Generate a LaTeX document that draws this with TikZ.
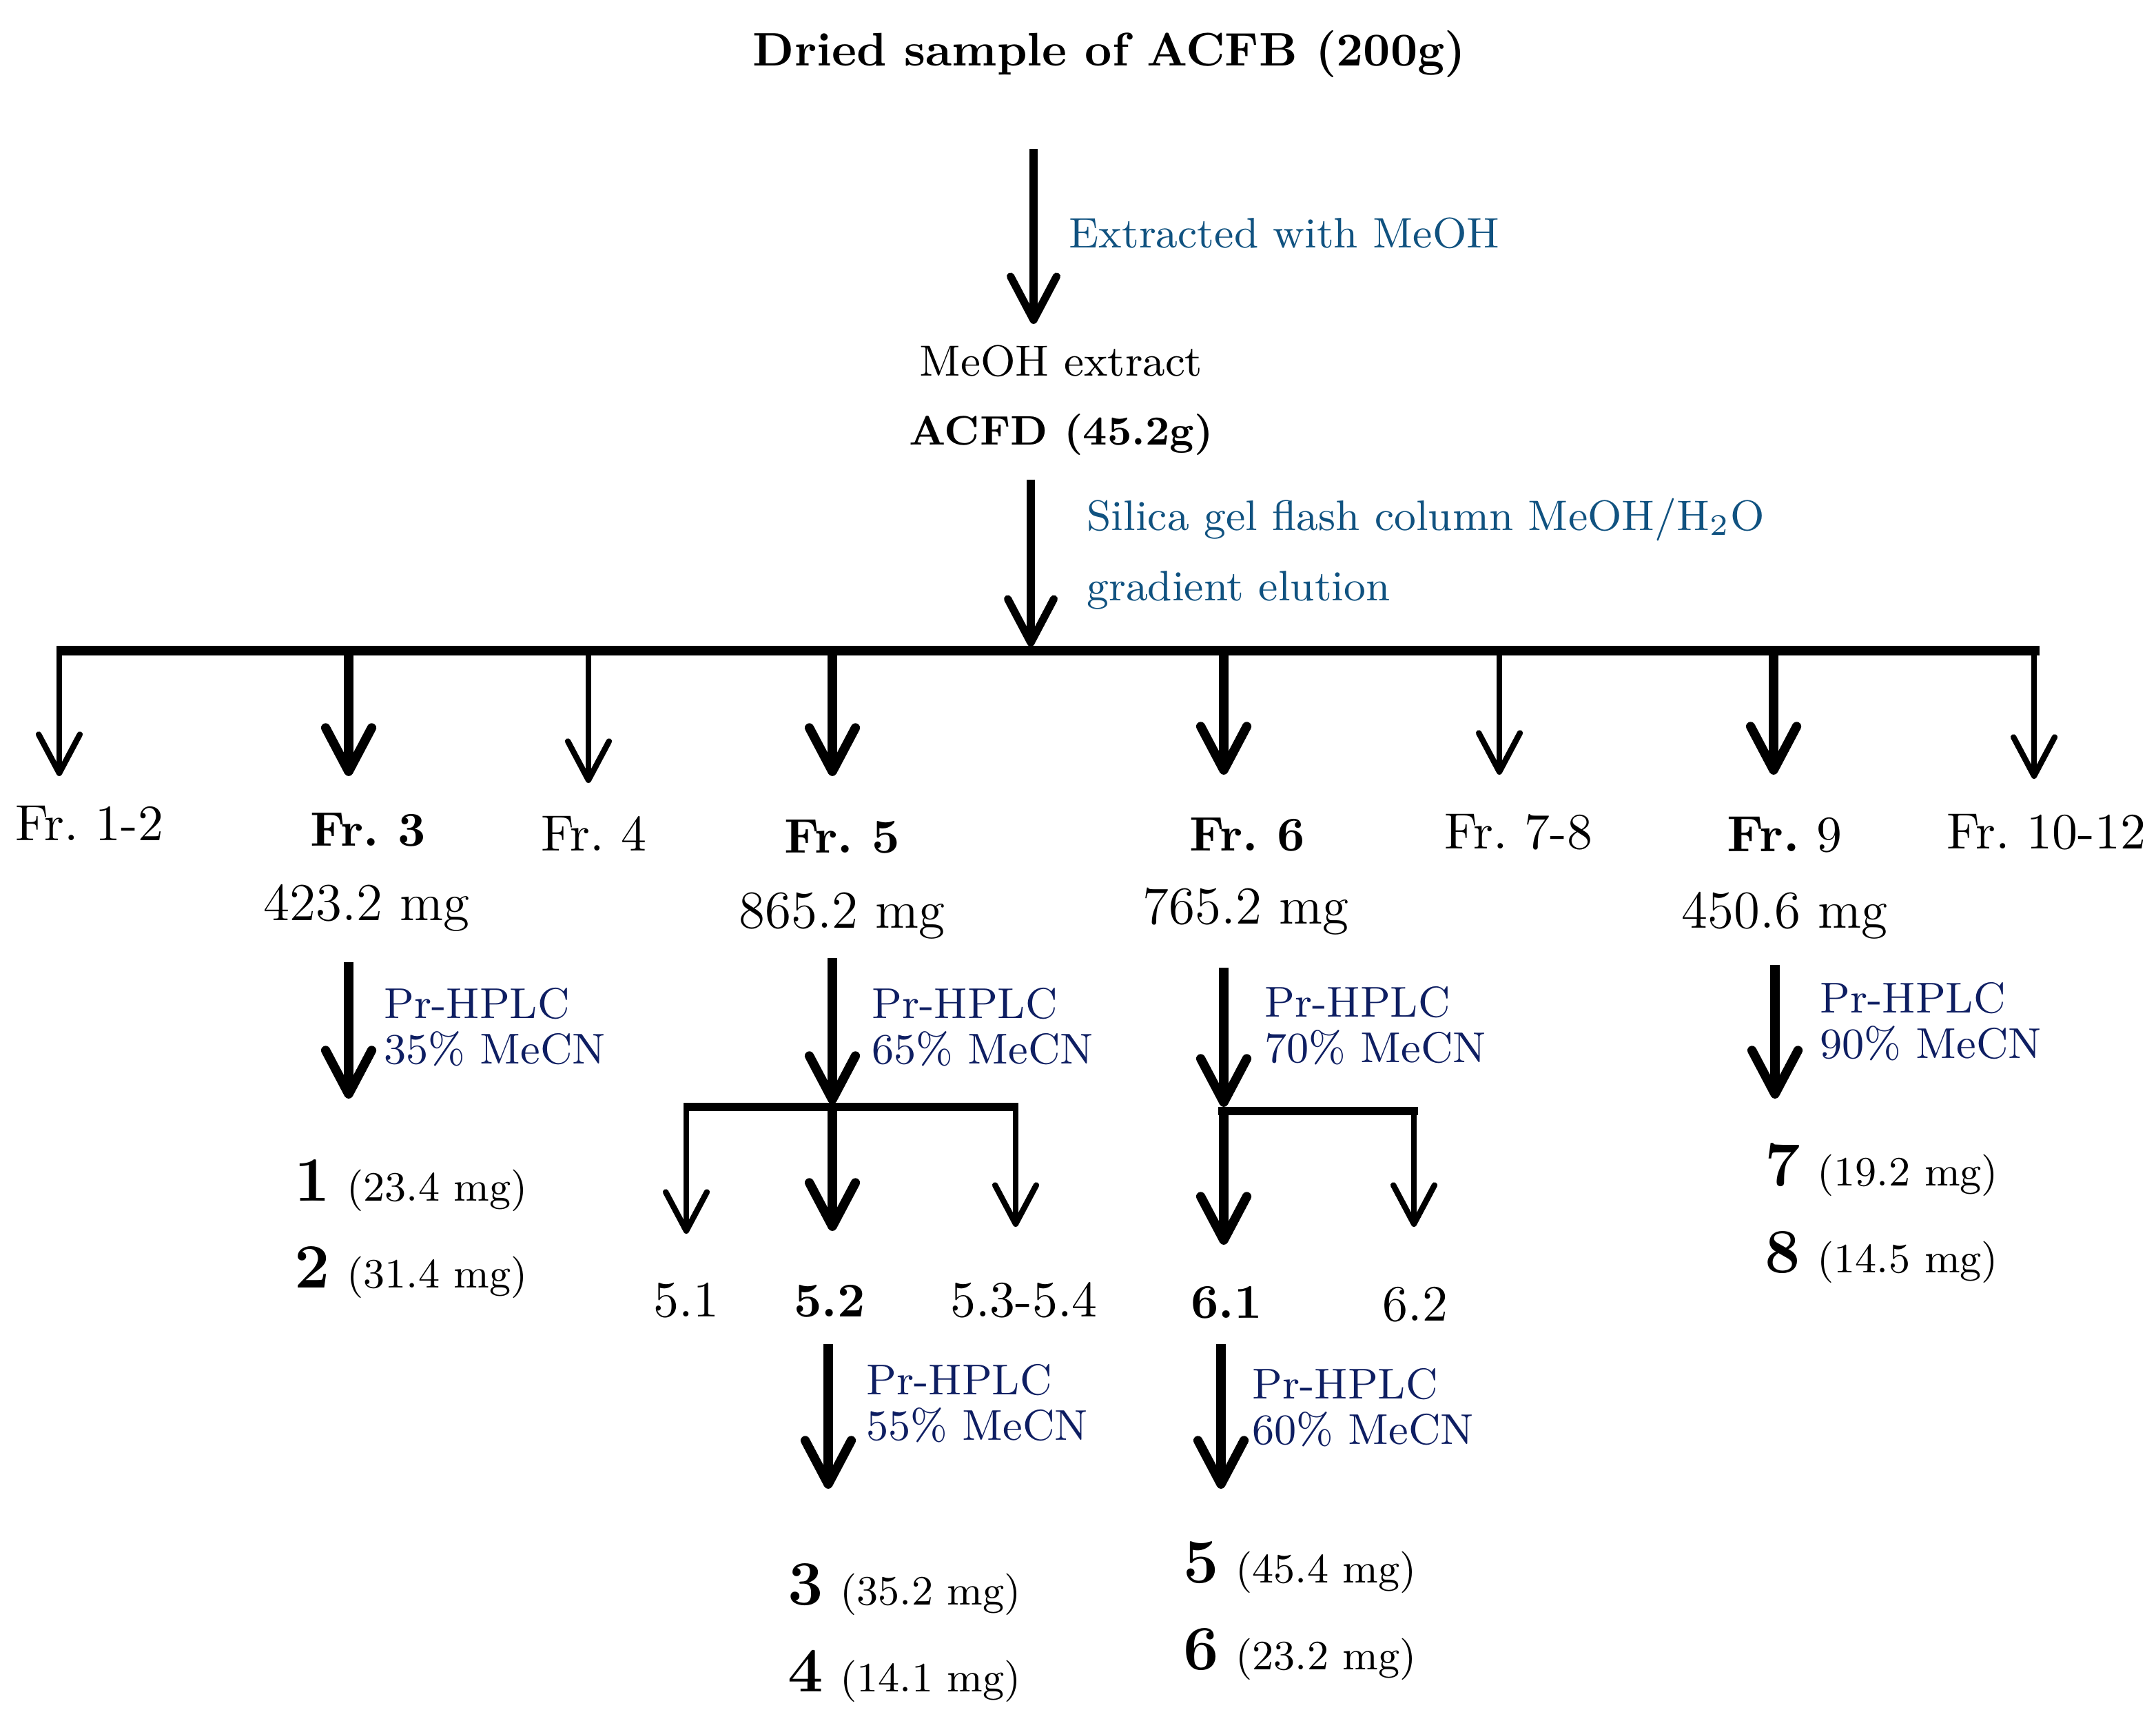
\documentclass[tikz,border=0pt]{standalone}
\usetikzlibrary{arrows.meta}
\definecolor{extblue}{RGB}{16,82,128}
\definecolor{hplcblue}{RGB}{14,30,98}
\frenchspacing

\begin{document}
\begin{tikzpicture}[x=0.01cm,y=-0.01cm,
    ttl/.style={inner sep=0pt,anchor=base,font=\fontsize{9.7}{12}\selectfont\bfseries},
    plain/.style={inner sep=0pt,anchor=base,font=\fontsize{9}{11}\selectfont},
    frac/.style={inner sep=0pt,anchor=base,font=\fontsize{10.5}{12}\selectfont},
    bfrac/.style={frac,font=\fontsize{10}{12}\selectfont\bfseries},
    mass/.style={inner sep=0pt,anchor=base,font=\fontsize{11}{13}\selectfont},
    cmpd/.style={inner sep=0pt,anchor=base west,font=\fontsize{13}{15}\selectfont\bfseries},
    ext/.style={inner sep=0pt,anchor=north west,align=left,text=extblue,font=\fontsize{8.8}{14.5}\selectfont},
    hplc/.style={inner sep=0pt,anchor=north west,align=left,text=hplcblue,font=\fontsize{8.9}{9.4}\selectfont},
    mainarr/.style={line width=1.6pt,-{Straight Barb[length=9pt,width=9.5pt,round]}},
    fatarr/.style={line width=1.9pt,-{Straight Barb[length=9pt,width=9.5pt,round]}},
    thinarr/.style={line width=1.2pt,-{Straight Barb[length=8pt,width=8.5pt,round]}},
    bar/.style={line width=1.9pt},
    subbar/.style={line width=1.7pt}]

    \useasboundingbox (0,0) rectangle (1564.5,1240.5);
    \def\bary{472}
    \def\mg#1{\kern3.5pt{\fontsize{8.6}{11}\selectfont\mdseries (#1 mg)}}

    %%%%% extraction %%%%%
    \node[ttl] (title) at (805,48) {Dried sample of ACFB (200g)};
    \coordinate (s1) at (750,108);
    \coordinate (t1) at (750,235);
    \draw[mainarr] (s1) -- (t1);
    \node[ext] (extr) at (775,157) {Extracted with MeOH};

    \node[plain] (meoh) at (770,273) {MeOH extract};
    \node[plain,font=\fontsize{8.5}{11}\selectfont\bfseries] (acfd) at (770,323) {ACFD (45.2g)};

    \coordinate (s2) at (748,348);
    \coordinate (t2) at (748,469);
    \draw[mainarr] (s2) -- (t2);
    \node[ext] (silica) at (788,361) {Silica gel flash column MeOH/H\textsubscript{2}O\\gradient elution};

    %%%%% fractions %%%%%
    \coordinate (barL) at (41,\bary);
    \coordinate (barR) at (1480,\bary);
    \draw[bar] (barL) -- (barR);
    \foreach \n/\x/\tip/\sty in {12/43/563/thinarr, 3/253/563/fatarr, 4/427/568/thinarr, 5/604/563/fatarr,
        6/888/562/fatarr, 78/1088/562/thinarr, 9/1287/562/fatarr, 1012/1476/565/thinarr}{
        \coordinate (b\n) at (\x,\bary);
        \coordinate (e\n) at (\x,\tip);
        \draw[\sty] (b\n) -- (e\n);
    }

    \node[frac] (fr12) at (65,610) {Fr. 1-2};
    \node[bfrac] (fr3) at (267,614) {Fr. 3};
    \node[mass] (m3) at (266,668) {423.2 mg};
    \node[frac] (fr4) at (431,617) {Fr. 4};
    \node[bfrac] (fr5) at (611,619) {Fr. 5};
    \node[mass] (m5) at (611,673) {865.2 mg};
    \node[bfrac] (fr6) at (905,617) {Fr. 6};
    \node[mass] (m6) at (904,670) {765.2 mg};
    \node[frac] (fr78) at (1102,616) {Fr. 7-8};
    \node[frac] (fr9) at (1295,618) {\textbf{Fr.} 9};
    \node[mass] (m9) at (1295,673) {450.6 mg};
    \node[frac] (fr1012) at (1485,616) {Fr. 10-12};

    %%%%% Fr. 3 %%%%%
    \coordinate (s3) at (253,698);
    \coordinate (t3) at (253,797);
    \draw[fatarr] (s3) -- (t3);
    \node[hplc] (c3) at (278,716) {Pr-HPLC\\35\% MeCN};
    \node[cmpd] (k1) at (213,871) {1\mg{23.4}};
    \node[cmpd] (k2) at (213,934) {2\mg{31.4}};

    %%%%% Fr. 5 %%%%%
    \coordinate (s5) at (604,695);
    \coordinate (t5) at (604,801);
    \draw[fatarr] (s5) -- (t5);
    \node[hplc] (c5) at (632,716) {Pr-HPLC\\65\% MeCN};
    \coordinate (j51) at (496,803);
    \coordinate (j54) at (739,803);
    \draw[subbar] (j51) -- (j54);
    \coordinate (a51) at (498,803);  \coordinate (z51) at (498,895);
    \coordinate (a52) at (604,803);  \coordinate (z52) at (604,893);
    \coordinate (a53) at (737,803);  \coordinate (z53) at (737,890);
    \draw[thinarr] (a51) -- (z51);
    \draw[fatarr] (a52) -- (z52);
    \draw[thinarr] (a53) -- (z53);
    \node[frac] (f51) at (498,955) {5.1};
    \node[bfrac] (f52) at (602,955) {5.2};
    \node[frac] (f534) at (743,955) {5.3-5.4};

    \coordinate (s52) at (601,975);
    \coordinate (t52) at (601,1080);
    \draw[fatarr] (s52) -- (t52);
    \node[hplc] (c52) at (628,989) {Pr-HPLC\\55\% MeCN};
    \node[cmpd] (k3) at (571,1164) {3\mg{35.2}};
    \node[cmpd] (k4) at (571,1227) {4\mg{14.1}};

    %%%%% Fr. 6 %%%%%
    \coordinate (s6) at (888,702);
    \coordinate (t6) at (888,803);
    \draw[fatarr] (s6) -- (t6);
    \node[hplc] (c6) at (917,715) {Pr-HPLC\\70\% MeCN};
    \coordinate (j61) at (884,806);
    \coordinate (j62) at (1029,806);
    \draw[subbar] (j61) -- (j62);
    \coordinate (a61) at (888,806);  \coordinate (z61) at (888,903);
    \coordinate (a62) at (1026,806); \coordinate (z62) at (1026,890);
    \draw[fatarr] (a61) -- (z61);
    \draw[thinarr] (a62) -- (z62);
    \node[bfrac] (f61) at (890,956) {6.1};
    \node[frac] (f62) at (1027,958) {6.2};

    \coordinate (s61) at (886,975);
    \coordinate (t61) at (886,1080);
    \draw[fatarr] (s61) -- (t61);
    \node[hplc] (c61) at (908,992) {Pr-HPLC\\60\% MeCN};
    \node[cmpd] (k5) at (858,1148) {5\mg{45.4}};
    \node[cmpd] (k6) at (858,1211) {6\mg{23.2}};

    %%%%% Fr. 9 %%%%%
    \coordinate (s9) at (1288,700);
    \coordinate (t9) at (1288,797);
    \draw[fatarr] (s9) -- (t9);
    \node[hplc] (c9) at (1320,712) {Pr-HPLC\\90\% MeCN};
    \node[cmpd] (k7) at (1280,860) {7\mg{19.2}};
    \node[cmpd] (k8) at (1280,923) {8\mg{14.5}};
\end{tikzpicture}
\end{document}
